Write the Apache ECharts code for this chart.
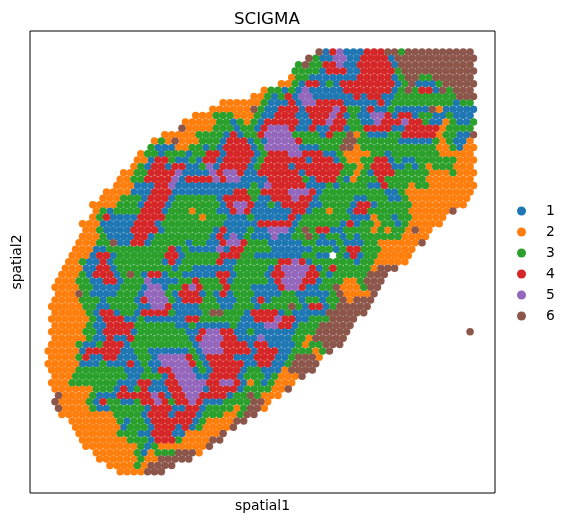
<!DOCTYPE html>
<html>
<head>
<meta charset="utf-8">
<script src="https://cdn.jsdelivr.net/npm/echarts@6/dist/echarts.min.js"></script>
<style>html,body{margin:0;padding:0;background:#fff}#c{width:570px;height:523px}</style>
</head>
<body>
<div id="c"></div>
<script>
// Cluster labels and colours
const clusters = ["1","2","3","4","5","6"];
const colors = ["#1f77b4","#ff7f0e","#2ca02c","#d62728","#9467bd","#8c564b"];
// First lattice column of each lattice row
const rowStart = [39,38,36,36,35,34,31,30,25,24,21,20,19,17,15,15,13,13,12,11,10,10,8,8,6,7,6,5,5,5,4,4,3,3,2,2,1,1,1,1,0,1,0,1,0,1,0,0,0,0,0,1,0,1,1,1,1,2,3,4,4,5,5,7,7,9,10];
// Cluster of every spot in each lattice row, run-length coded, "." = no spot
const rowSpots = [
"6 1 4 5 1*3 4*3 6*2 3 6*10",
"6 3 1*2 5*2 1*2 4*4 1 6*12",
"3 6 3*2 4*2 5 1*2 4*5 1 6*11",
"3*4 1 4*3 1*2 4*5 3 6*11",
"2 3*2 1*7 4*5 1 3 6*2 3*2 6*6",
"2*2 3 1 4*2 1 3 1 4*8 1 3 6 1*3 3 6*5",
"2 3*2 1 3 1 5 1*5 4*7 1 3 6 3 4*2 1 6 3 6*3",
"2*2 3 1 3 4 1 5*2 1*6 4 1 4*2 1*2 3*9 6*3",
"2*6 3 1*3 4 1 5*2 4*4 1*5 4 1 3*9 1 3*2",
"2*6 6 3 1*2 4 4*2 1 4*4 5 4 3*2 1 4 1*2 3 1*5 6 2 1*5",
"2*3 3*3 2*3 3 1*2 4*2 4 1*2 4*3 5 4 1 3 1*2 5*2 4 1 4*2 1 3*2 1*2 3 1*3",
"2*5 3*2 1 3 2 3 1 4*3 4*2 1*2 4*2 5 4*2 3*2 1*2 5 4*3 5 4*2 3 1*2 2 3 1*2 3",
"6 2*4 3*3 1 3*2 1 4 5*3 4 1*2 4 1*2 4*2 1 3*2 4*4 1*2 4*5 2 3*4",
"2*5 3*4 1 4 1 3*2 4 5*4 3*4 1 4 3*2 6 2 3 1*3 3*2 4*5 2 3*2 1*2 6",
"2 3 2 6 2*3 3*3 1 4*3 1 3 1 5*4 4 3*6 6*2 3*6 1*5 3 2 3 1*2 2",
"3 1*3 2*2 3*2 1 3 1 4*4 1 3 5*5 1*3 3*3 6*2 2 3*11 2*2 3 1 2*2",
"2 3*2 1 3*3 1 3*2 4*2 1 4*4 1 3 4*3 5*2 4*3 1*2 3 2*4 3*2 1 3*7 2*5",
"2*2 1 4*2 3 1*2 3 1 4*2 1 4*4 1 3 4*6 1 4*3 1 3 2*2 3*2 4*2 1 3 1*2 3*6 2*3",
"2 3 1 4*2 1 4*2 1*2 3 5 1 4*4 1 3 4*4 1 4*7 3*2 2 3 4*3 1*2 3 1 3 2 3*3 2*3",
"2*2 3*2 4*4 5 1*4 5 4 5*2 4 1*2 4*6 1 4*5 3*2 2 3 1 4*3 3*5 2*3 3 2*3",
"2*2 3*2 4*4 5 1 4*4 5 4 5*2 1*4 4*5 3 1 4*3 3 1 2 3*3 4 3*6 2*7",
"2*3 1*3 4*2 5 1*11 3 1 5 4*5 1*3 3 1 3*4 1*2 4 3*3 2 3*2 2*7",
"2*4 1*3 4*3 1*9 4*2 3*2 4*4 5*3 4 1 3*9 1*2 3 2*10",
"2*3 3*3 1 4*3 1 3*6 1 4*4 3 1*2 4*3 5 4*2 1 3*5 1*2 3*3 1*2 3 2*9",
"2*4 3*3 1 4*3 1 3*7 1 4 5*2 4 1*2 3 1 4*4 1*2 3*4 1 4*2 1 3*5 2*8",
"2 3 1 3*4 4*3 1 3*3 2 3*3 1*2 4 5 4 1*6 4*2 1 3*2 2 3*2 1 4*2 3*6 2*6 6",
"2 3 4 1*4 4*4 3*5 2 3*3 1*3 3 1*5 4 1 3*7 1*3 2 3*2 1 3*2 2*5",
"2*3 1*5 4*3 1 3*9 1*5 4*5 1 3*6 1 4 1 3*2 2 3*2 1 3 2*5",
"2*2 3 1*4 4*4 1 3*7 1 4 1*3 3 1*2 5*3 1 3 6 3 4*2 1*2 3*4 2 3 2 3*2 2 6 2*2",
"2*3 3 1*4 4*2 1 3*8 1 4 1 5 1 3 1*3 5 1*2 3*2 6 3 1 3*2 1 3 1 3*6 2*4",
"2*3 3*2 6 1*2 4*2 1 3*5 1 3*2 1*2 4 5*2 4 3*3 1*5 3*2 1*3 3 1*3 3*2 2*6 6",
"2*3 1*2 3*9 4 1 3 1*4 5 1 4*2 3*4 1*6 3*3 1 3 4*2 3*3 2*5",
"2*3 1 4*2 1 3*7 4*2 1 3*5 4*3 3*2 1*7 3*2 1*2 . 3 1 4 1 3*2 2*5",
"2*2 3 1*2 4 1 3*7 1 4 1 3*5 4 1*2 3*6 4*2 5 4 1 3*6 1 3*2 2*5",
"2*3 1*2 4*2 1 3*8 1 3*2 1*6 3*5 1 4 5*4 4 1 3 4 3*5 2 6*3",
"2*3 3 1 4*3 1 3 6 3 1 4*2 1 3*2 1*5 4*2 1 3*4 1 4*2 5*3 4*2 3 1 3*5 6*3",
"2*3 3*2 1*2 4*2 1 3*3 5 1*4 3*2 4 3*3 4 1 3*5 1 4 5*3 4*2 1 3*3 2*2 3 6*3",
"2*4 3*2 1*4 3*3 1 5*2 1 3*2 4 5 4 3*3 4 3*3 1*4 4 5*2 4 1*2 3*2 6 2*3 3 6*2",
"2*3 6 3 1*4 3*3 1 5*3 3 1 4*3 1 3 1 4 1 3*3 1*4 3*2 1*5 3 6 2*4 6",
"2*4 3*3 1 3*4 1 4 5*3 3 1 4*3 3*2 1*3 3*2 1 4 1 3*4 1 3*2 1 3*2 6 2 6*3",
"2*5 3*2 1*2 3*4 1*2 5*2 4 1*4 3*3 1*2 3*3 1 3*4 6 3 1 4*2 1 3 6*5",
"2*5 3 1 4*2 1 3*2 1 4*4 3 1*4 3 6*2 3*3 1 4*4 1 3 1*5 6*6",
"2*6 3 1 4*3 1*2 3 1*6 4*2 3*6 1*2 4*3 5 4*2 1*2 3*3 6*4",
"2*5 3 1*2 4*4 3*6 1*2 3 1*5 3 1*4 5*2 4*2 1 3*3 6*5",
"2*5 3*2 1 4*4 1 3*7 1*2 4 5*2 4*2 1*2 3 1*6 3*3 6*5 .*17 6",
"2*5 3 1*2 4 1*2 4 3*8 1 4 5*3 4*2 1*3 5 1*4 3*2 2 6*5",
"2*4 3 1*2 3 4*3 1 3*9 1 5*3 4*4 1 4*2 1*4 3 2 3*2 6*3",
"2*5 1 4*5 1*2 3*2 1*6 3 1 5*3 4*4 1 4*3 1*2 3*3 2 3 6",
"2*4 3 4 1*2 4*2 1*3 3*2 1 5*4 4 3 1 4*4 1*3 4*3 1*2 3 6*3 2",
"2*5 1*3 3 1*3 4 1 3 1*2 5*4 4 3 1 4*5 1*2 4*2 1*2 3 6*4",
"2*4 3*7 1*3 3 1 4*2 5*3 1 3 1 4*4 1 3*2 1*3 2 6*4",
"2*3 3*8 1*2 3*3 1 4 5*3 1*2 4*4 1 3*3 1 3 2*3 6",
"2*3 3*7 1*3 4*2 1*2 4*2 5*4 4*2 5*2 4 1 2 3 1 3 2*3",
"2*6 3*3 1 4 1 3 4 1*3 4*2 5*3 1 4*4 1 3*4 2*2 6",
"6 2*4 3 1*3 4*5 5 4 1 4*2 5*2 4*4 1 3*2 6 3 2*3",
"6 2*4 3 1 4 3*2 1*2 3 4*2 5 4 3 4*2 5 4 1*3 3*4 6*2 2",
"6 2*4 3 1*2 3*5 1 4*3 1*2 4*2 1 3*4 2 3 6*2 2",
"2*8 3*4 1 4*3 1 4*3 1 3*3 2*2 3 6*2",
"2*7 3 1 3*2 1 4*6 1 3 2*4 6*2",
"2*7 1 3*3 1 4*3 1 4 1 3 2*4 6",
"2*6 3*3 1*2 4*3 1*2 2*5 6",
"2*7 3*3 1 4*3 3 2*4 6*2",
"2*8 3 1 3 2*7 6",
"2*6 3 1 2 3*3 6*3 2",
"2*6 3 2*2 6*5",
"2*4 3 2 6*4",
"2*4 6*3"
];

const byCluster = clusters.map(() => []);
rowSpots.forEach((row, r) => {
  let col = rowStart[r];
  row.split(" ").forEach(tok => {
    const [c, n] = tok.split("*");
    const count = n ? +n : 1;
    for (let k = 0; k < count; k++, col++) {
      const idx = clusters.indexOf(c);
      if (idx >= 0) byCluster[idx].push([col - (r % 2 ? 0.5 : 0), r]);
    }
  });
});

const chart = echarts.init(document.getElementById("c"), null, {renderer: "canvas"});
const font = "DejaVu Sans";
chart.setOption({
  animation: false,
  backgroundColor: "#fff",
  title: {
    text: "SCIGMA", left: 229, top: 6,
    textStyle: {fontFamily: font, fontSize: 16.67, fontWeight: "normal", color: "#000"}
  },
  grid: {left: 30, top: 31, width: 465, height: 462, show: true, borderColor: "#000", borderWidth: 1, containLabel: false, outerBoundsMode: "none"},
  xAxis: {
    type: "value", min: -3.149, max: 64.635,
    name: "spatial1", nameLocation: "middle", nameGap: 6,
    nameTextStyle: {fontFamily: font, fontSize: 13.89, color: "#000"},
    axisLine: {show: false}, axisTick: {show: false}, axisLabel: {show: false}, splitLine: {show: false}
  },
  yAxis: {
    type: "value", inverse: true, min: -3.30, max: 69.34,
    name: "spatial2", nameLocation: "middle", nameGap: 6,
    nameTextStyle: {fontFamily: font, fontSize: 13.89, color: "#000"},
    axisLine: {show: false}, axisTick: {show: false}, axisLabel: {show: false}, splitLine: {show: false}
  },
  legend: {
    orient: "vertical", left: 512, top: 198, itemWidth: 9, itemHeight: 9, itemGap: 5,
    icon: "circle", selectedMode: false,
    textStyle: {fontFamily: font, fontSize: 13.89, color: "#000", padding: [0, 0, 0, 15], lineHeight: 16},
    data: clusters
  },
  series: clusters.map((name, i) => ({
    name, type: "scatter", data: byCluster[i], symbolSize: 7.5, silent: true,
    itemStyle: {color: colors[i], opacity: 1}
  }))
});
</script>
</body>
</html>
